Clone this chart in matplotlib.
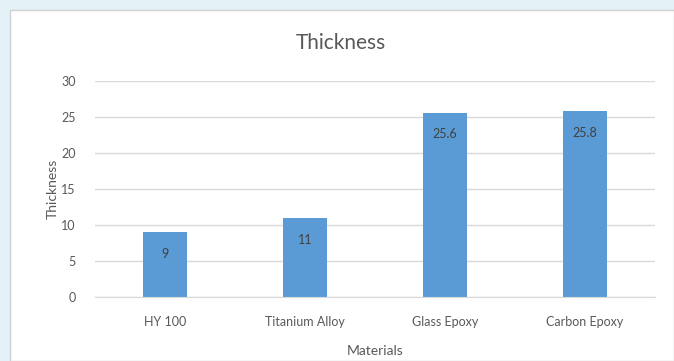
import numpy as np
import matplotlib
matplotlib.use("Agg")
import matplotlib.pyplot as plt
import matplotlib.patches as mpatches

# ── Data ──────────────────────────────────────────────────────────────────────
materials = ["HY 100", "Titanium Alloy", "Glass Epoxy", "Carbon Epoxy"]
thickness = [9, 11, 25.6, 25.8]
labels = ["9", "11", "25.6", "25.8"]

BAR = "#5B9BD5"
TXT = "#595959"
GRID = "#D9D9D9"

plt.rcParams.update({
    "font.family": ["Lato", "DejaVu Sans"],
    "font.size": 9,
})

W, H = 674, 361
fig = plt.figure(figsize=(W / 100, H / 100), dpi=100)
fig.patch.set_facecolor("#e4f1f7")

# white chart box (screenshot crop shows its top-left corner)
box = mpatches.Rectangle((10 / W, 0), 1 - 10 / W, 1 - 10 / H,
                         transform=fig.transFigure, facecolor="white",
                         edgecolor="#d0d0d0", linewidth=1.0, zorder=-10)
fig.add_artist(box)

ax = fig.add_axes([95 / W, 1 - 297 / H, (655 - 95) / W, (297 - 81) / H])
ax.set_facecolor("none")

x = np.arange(len(materials))
ax.bar(x, thickness, width=0.31, color=BAR, zorder=2)
for xi, v, lab in zip(x, thickness, labels):
    ax.annotate(lab, (xi, v), xytext=(0, -20), textcoords="offset points",
                ha="center", va="bottom", fontsize=9, color="#404040")

ax.set_xlim(-0.5, len(materials) - 0.5)
ax.set_ylim(0, 30)
ax.set_yticks(range(0, 31, 5))
ax.set_xticks(x)
ax.set_xticklabels(materials)
ax.yaxis.grid(True, color=GRID, linewidth=1.0, zorder=0)
ax.set_axisbelow(True)
for s in ["top", "right", "left"]:
    ax.spines[s].set_visible(False)
ax.spines["bottom"].set_color(GRID)
ax.tick_params(axis="both", length=0, colors=TXT, labelsize=9)
ax.tick_params(axis="y", pad=14)
ax.tick_params(axis="x", pad=14)

fig.text(341 / W, 1 - 43 / H, "Thickness", fontsize=15, color=TXT,
         ha="center", va="center")
ax.set_xlabel("Materials", fontsize=10, color=TXT, labelpad=12)
ax.set_ylabel("Thickness", fontsize=10, color=TXT, labelpad=2)

fig.savefig("out.png", dpi=100, facecolor=fig.get_facecolor())
